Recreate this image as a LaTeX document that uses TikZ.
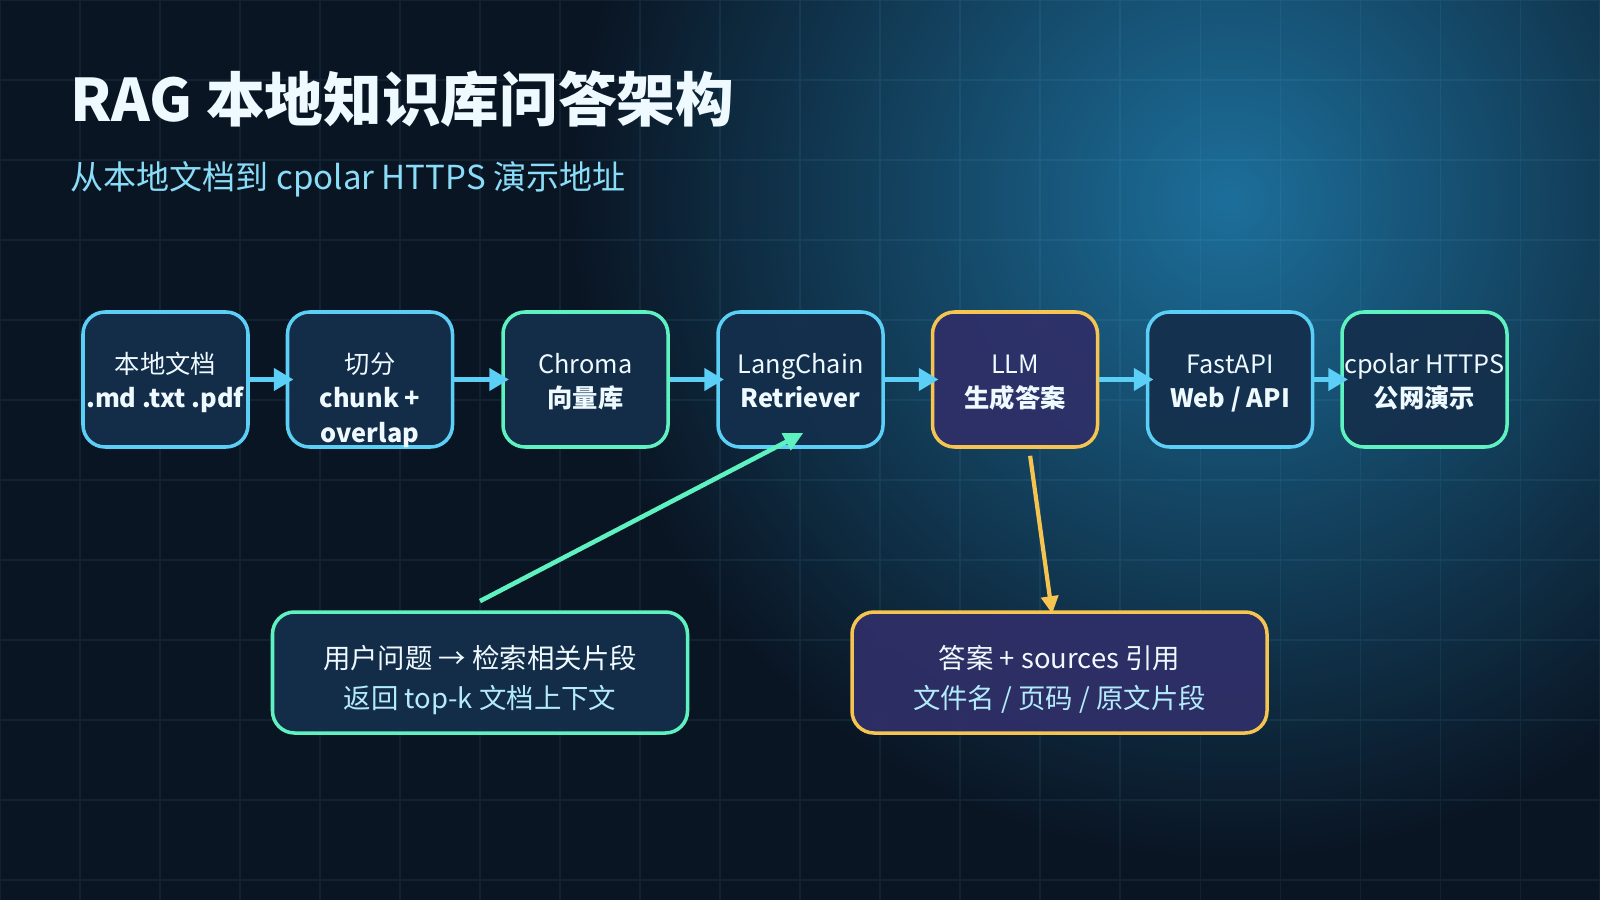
\documentclass[tikz,border=0pt]{standalone}
\usepackage{fontspec}
\setmainfont{Noto Sans CJK SC}
\usetikzlibrary{arrows.meta,fadings}

\definecolor{bgbase}{HTML}{0A1523}
\definecolor{bgglow}{HTML}{1D6F9B}
\definecolor{skyline}{HTML}{5CCFF6}
\definecolor{mintline}{HTML}{5EF2C0}
\definecolor{amberline}{HTML}{F5C451}
\definecolor{boxfill}{HTML}{142F4C}
\definecolor{llmfill}{HTML}{2F2F68}
\definecolor{titletext}{HTML}{EEFAFF}
\definecolor{subtext}{HTML}{8ADDF8}
\definecolor{notetext}{HTML}{B3EBFC}

\tikzfading[name=glowfade, inner color=transparent!0, outer color=transparent!100]

\tikzset{
  stage/.style={draw=skyline, fill=boxfill, fill opacity=0.92, text opacity=1,
    line width=1pt, rounded corners=0.22cm, minimum width=1.65cm, minimum height=1.35cm,
    inner sep=0pt, align=center, text=titletext, text height=16pt, text depth=0pt,
    font=\fontsize{7.2}{9.8}\selectfont},
  note/.style={stage, minimum width=4.15cm, minimum height=1.21cm,
    text height=20.2pt, text depth=0pt, font=\fontsize{7.8}{11.3}\selectfont},
  flow/.style={skyline, line width=1.4pt, -{Triangle[length=5.6pt,width=6.2pt]}, shorten >=-2.2pt},
  gridline/.style={skyline, opacity=0.08, line width=0.3pt},
}

\begin{document}
\begin{tikzpicture}
  \useasboundingbox (0,0) rectangle (16,9);
  % background
  \fill[bgbase] (0,0) rectangle (16,9);
  \begin{scope}
    \clip (0,0) rectangle (16,9);
    \fill[bgglow, path fading=glowfade] (12.3,7) circle (6.6);
  \end{scope}
  \begin{scope}[yshift=0.2cm]
    \draw[gridline] (0,-0.2) grid[step=0.8] (16,8.8);
  \end{scope}

  % heading
  \node[anchor=base west, inner sep=0pt, text=titletext, font=\fontsize{16.7}{20}\selectfont\bfseries]
    (title) at (0.70,7.78) {RAG 本地知识库问答架构};
  \node[anchor=base west, inner sep=0pt, text=subtext, font=\fontsize{9.4}{12}\selectfont]
    (subtitle) at (0.70,7.10) {从本地文档到 cpolar HTTPS 演示地址};

  % pipeline
  \node[stage] (docs) at (1.655,5.205) {本地文档\\\textbf{.md .txt .pdf}};
  \node[stage, text height=35.6pt] (chunk) at (3.70,5.205)
    {切分\\\textbf{chunk +}\\\textbf{overlap}};
  \node[stage, draw=mintline] (chroma) at (5.855,5.205) {Chroma\\\textbf{向量库}};
  \node[stage] (retriever) at (8.005,5.205) {LangChain\\\textbf{Retriever}};
  \node[stage, draw=amberline, fill=llmfill] (llm) at (10.15,5.205) {LLM\\\textbf{生成答案}};
  \node[stage] (api) at (12.30,5.205) {FastAPI\\\textbf{Web / API}};
  \node[stage, draw=mintline] (cpolar) at (14.245,5.205) {cpolar HTTPS\\\textbf{公网演示}};

  \draw[flow] (docs) -- (chunk);
  \draw[flow] (chunk) -- (chroma);
  \draw[flow] (chroma) -- (retriever);
  \draw[flow] (retriever) -- (llm);
  \draw[flow] (llm) -- (api);
  \draw[flow] (api) -- (cpolar);

  % notes
  \node[note, draw=mintline] (query) at (4.80,2.275)
    {用户问题 → 检索相关片段\\\textcolor{notetext}{返回 top-k 文档上下文}};
  \node[note, draw=amberline, fill=llmfill] (answer) at (10.595,2.275)
    {答案 + sources 引用\\\textcolor{notetext}{文件名 / 页码 / 原文片段}};

  \draw[mintline, line width=1.3pt, -{Triangle[length=5.5pt,width=5.2pt]}]
    ([yshift=2.6pt]query.north) -- ([xshift=0.8pt,yshift=4.5pt]retriever.south);
  \draw[amberline, line width=1.2pt, -{Triangle[length=5pt,width=4.8pt]}]
    ([xshift=4.3pt,yshift=-2pt]llm.south) -- ([xshift=-2.1pt,yshift=-1pt]answer.north);
\end{tikzpicture}
\end{document}
